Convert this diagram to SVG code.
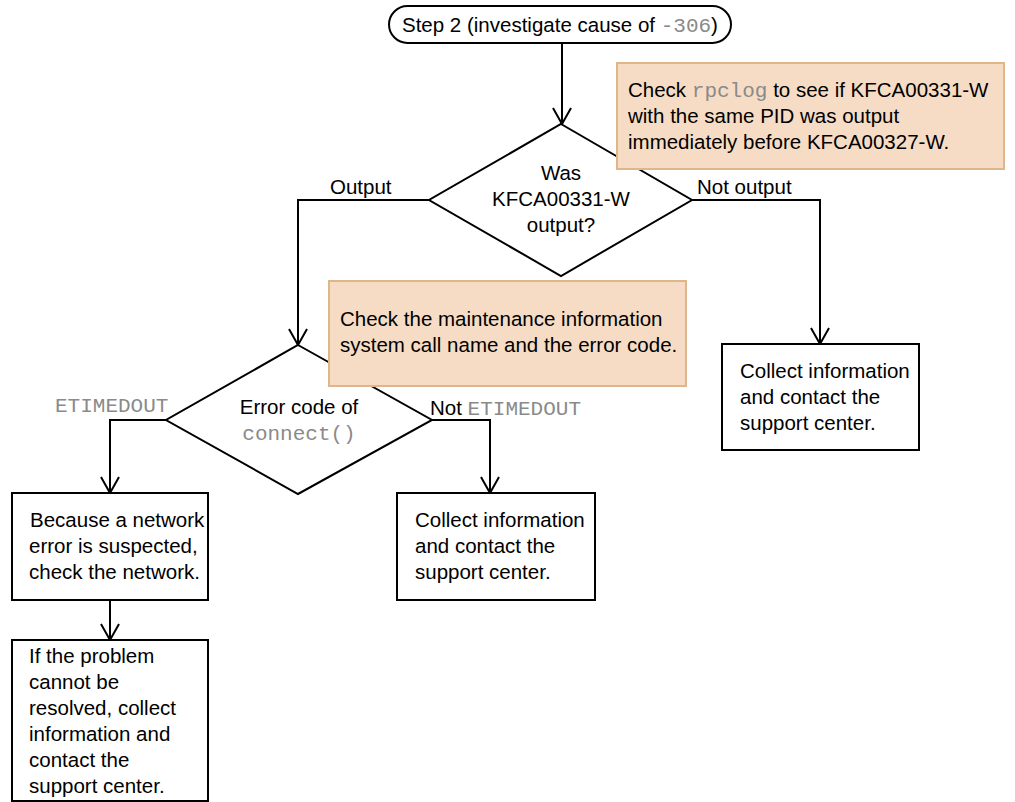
<svg xmlns="http://www.w3.org/2000/svg" width="1015" height="802" viewBox="0 0 1015 802">
  <defs>
    <marker id="arrow" viewBox="0 0 20 20" refX="18" refY="10" markerWidth="20" markerHeight="20" markerUnits="userSpaceOnUse" orient="auto">
      <path d="M2,1 L18,10 L2,19" fill="none" stroke="#000" stroke-width="2"/>
    </marker>
    <style>
      .shape { fill: #fff; stroke: #000; stroke-width: 2; }
      .note { fill: #f6dcc4; stroke: #dfb58c; stroke-width: 2; }
      .t { font-family: "Liberation Sans", Arial, sans-serif; font-size: 20.5px; fill: #000; }
      .m { font-family: "Liberation Mono", "Courier New", monospace; font-size: 21px; fill: #8a8a8a; }
      .c { text-anchor: middle; }
      .edge { fill: none; stroke: #000; stroke-width: 2; }
    </style>
  </defs>

  <!-- connectors -->
  <g id="connectors">
    <path class="edge" d="M562,43 V124" marker-end="url(#arrow)"/>
    <path class="edge" d="M429,200 H298 V345" marker-end="url(#arrow)"/>
    <path class="edge" d="M692,200 H820 V344" marker-end="url(#arrow)"/>
    <path class="edge" d="M166,420 H110 V493" marker-end="url(#arrow)"/>
    <path class="edge" d="M432,420 H490 V493" marker-end="url(#arrow)"/>
    <path class="edge" d="M110,600 V640" marker-end="url(#arrow)"/>
    <text class="t" x="330" y="194">Output</text>
    <text class="t" x="697" y="194">Not output</text>
    <text class="m" x="55" y="412">ETIMEDOUT</text>
    <text class="t" x="430" y="415">Not <tspan class="m">ETIMEDOUT</tspan></text>
  </g>

  <!-- start terminal -->
  <g id="start">
    <rect class="shape" x="389" y="6" width="342" height="37" rx="18.5"/>
    <text class="t" x="402" y="32">Step 2 (investigate cause of <tspan class="m">-306</tspan>)</text>
  </g>

  <!-- decision: KFCA00331-W output? -->
  <g id="decision1">
    <polygon class="shape" points="561,124 692,200 561,276 429,200"/>
    <text class="t c" x="561" y="180">Was</text>
    <text class="t c" x="561" y="206">KFCA00331-W</text>
    <text class="t c" x="561" y="232">output?</text>
  </g>

  <!-- note on rpclog check -->
  <g id="note1">
    <rect class="note" x="617" y="63" width="387" height="106"/>
    <text class="t" x="628" y="97">Check <tspan class="m">rpclog</tspan> to see if KFCA00331-W</text>
    <text class="t" x="628" y="123">with the same PID was output</text>
    <text class="t" x="628" y="149">immediately before KFCA00327-W.</text>
  </g>

  <!-- decision: error code of connect() -->
  <g id="decision2">
    <polygon class="shape" points="298,345 432,420 298,494 166,420"/>
    <text class="t c" x="299" y="414">Error code of</text>
    <text class="m c" x="299" y="440">connect()</text>
  </g>

  <!-- note on maintenance information -->
  <g id="note2">
    <rect class="note" x="329" y="281" width="357" height="105"/>
    <text class="t" x="340" y="326">Check the maintenance information</text>
    <text class="t" x="340" y="352">system call name and the error code.</text>
  </g>

  <!-- process: collect info (not output) -->
  <g id="collect1">
    <rect class="shape" x="722" y="344" width="197" height="106"/>
    <text class="t" x="740" y="378">Collect information</text>
    <text class="t" x="740" y="404">and contact the</text>
    <text class="t" x="740" y="430">support center.</text>
  </g>

  <!-- process: check network -->
  <g id="network">
    <rect class="shape" x="12" y="493" width="196" height="107"/>
    <text class="t" x="30" y="527">Because a network</text>
    <text class="t" x="29" y="553">error is suspected,</text>
    <text class="t" x="29" y="579">check the network.</text>
  </g>

  <!-- process: collect info (not ETIMEDOUT) -->
  <g id="collect2">
    <rect class="shape" x="397" y="493" width="198" height="107"/>
    <text class="t" x="415" y="527">Collect information</text>
    <text class="t" x="415" y="553">and contact the</text>
    <text class="t" x="415" y="579">support center.</text>
  </g>

  <!-- process: escalate if unresolved -->
  <g id="escalate">
    <rect class="shape" x="12" y="640" width="196" height="161"/>
    <text class="t" x="29" y="663">If the problem</text>
    <text class="t" x="29" y="689">cannot be</text>
    <text class="t" x="29" y="715">resolved, collect</text>
    <text class="t" x="29" y="741">information and</text>
    <text class="t" x="29" y="767">contact the</text>
    <text class="t" x="29" y="793">support center.</text>
  </g>
</svg>
